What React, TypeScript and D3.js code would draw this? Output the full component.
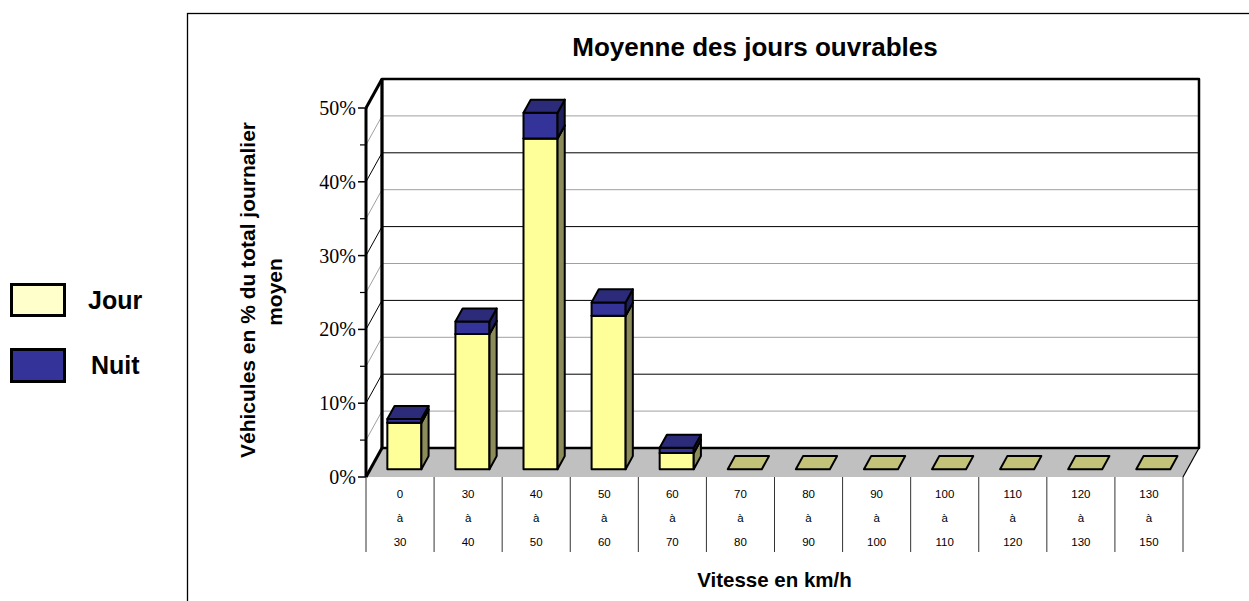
import * as d3 from 'd3'

const rangeFrom = ['0', '30', '40', '50', '60', '70', '80', '90', '100', '110', '120', '130']
const rangeTo = ['30', '40', '50', '60', '70', '80', '90', '100', '110', '120', '130', '150']
const jour = [6.3, 18.3, 44.8, 20.8, 2.2, 0, 0, 0, 0, 0, 0, 0]
const nuit = [0.5, 1.7, 3.5, 1.8, 0.7, 0, 0, 0, 0, 0, 0, 0]
const majorTicks = [0, 10, 20, 30, 40, 50]
const minorTicks = [5, 15, 25, 35, 45]

const SANS = 'Arial, "Liberation Sans", sans-serif'
const SERIF = '"Times New Roman", "Liberation Serif", serif'

// depth of the 3D box (back wall offset) and bar position inside it
const depth = { dx: 16, dy: -29 }
const f0 = 0.27
const f1 = 0.72

export default function App() {
  const x = d3.scaleBand<number>()
    .domain(rangeFrom.map((_, i) => i))
    .range([366, 1183])
    .paddingInner(0.5)
    .paddingOuter(0.25)
  const y = d3.scaleLinear().domain([0, 50]).range([477, 108])

  const left = x.range()[0]
  const right = x.range()[1]
  const step = x.step()
  const bw = x.bandwidth()
  const ox = depth.dx * f0
  const oy = depth.dy * f0
  const ddx = depth.dx * (f1 - f0)
  const ddy = depth.dy * (f1 - f0)

  const pts = (p: [number, number][]) => p.map(q => q.join(',')).join(' ')

  const box = (i: number, v0: number, v1: number, front: string, side: string, top: string, key: string) => {
    const X = (x(i) || 0) + ox
    const yt = y(v1) + oy
    const yb = y(v0) + oy
    return (
      <g key={key} stroke="#000" strokeWidth={2} strokeLinejoin="round">
        <rect x={X} y={yt} width={bw} height={yb - yt} fill={front} />
        <polygon points={pts([[X + bw, yt], [X + bw + ddx, yt + ddy], [X + bw + ddx, yb + ddy], [X + bw, yb]])} fill={side} />
        <polygon points={pts([[X, yt], [X + ddx, yt + ddy], [X + bw + ddx, yt + ddy], [X + bw, yt]])} fill={top} />
      </g>
    )
  }

  const flat = (i: number) => {
    const X = (x(i) || 0) + ox
    const yb = y(0) + oy
    return (
      <polygon key={'f' + i} points={pts([[X, yb], [X + ddx, yb + ddy], [X + bw + ddx, yb + ddy], [X + bw, yb]])}
        fill="#c2c278" stroke="#000" strokeWidth={2} strokeLinejoin="round" />
    )
  }

  const boundaries = d3.range(rangeFrom.length + 1).map(i => left + i * step)

  return (
    <svg width={1249} height={601} style={{ position: 'absolute', left: 0, top: 0, background: '#fff' }}>
      {/* outer frame */}
      <rect x={187.5} y={13.5} width={1200} height={700} fill="none" stroke="#000" strokeWidth={1.3} />

      <text x={755} y={56} textAnchor="middle" fontFamily={SANS} fontWeight="bold" fontSize={26}>
        Moyenne des jours ouvrables
      </text>

      {/* side wall + back wall */}
      <polygon points={pts([[left, y(0)], [left + depth.dx, y(0) + depth.dy], [left + depth.dx, y(50) + depth.dy], [left, y(50)]])} fill="#fff" />
      <rect x={left + depth.dx} y={y(50) + depth.dy} width={right - left} height={y(0) - y(50)} fill="#fff" />

      {/* floor */}
      <polygon points={pts([[left, y(0)], [right, y(0)], [right + depth.dx, y(0) + depth.dy], [left + depth.dx, y(0) + depth.dy]])} fill="#c0c0c0" />

      {/* gridlines */}
      {minorTicks.map(t => (
        <g key={'m' + t} stroke="#a0a0a0" strokeWidth={1}>
          <line x1={left} y1={y(t)} x2={left + depth.dx} y2={y(t) + depth.dy} />
          <line x1={left + depth.dx} y1={y(t) + depth.dy} x2={right + depth.dx} y2={y(t) + depth.dy} />
        </g>
      ))}
      {majorTicks.filter(t => t > 0 && t < 50).map(t => (
        <g key={'g' + t} stroke="#000" strokeWidth={1}>
          <line x1={left} y1={y(t)} x2={left + depth.dx} y2={y(t) + depth.dy} />
          <line x1={left + depth.dx} y1={y(t) + depth.dy} x2={right + depth.dx} y2={y(t) + depth.dy} />
        </g>
      ))}

      {/* wall outlines */}
      <g fill="none" stroke="#000" strokeLinejoin="round">
        <rect x={left + depth.dx} y={y(50) + depth.dy} width={right - left} height={y(0) - y(50)} strokeWidth={2.5} />
        <line x1={left + depth.dx} y1={y(50) + depth.dy} x2={left + depth.dx} y2={y(0) + depth.dy} strokeWidth={3} />
        <line x1={left} y1={y(50)} x2={left + depth.dx} y2={y(50) + depth.dy} strokeWidth={3} />
        <line x1={left} y1={y(0)} x2={left + depth.dx} y2={y(0) + depth.dy} strokeWidth={3} />
        <line x1={right} y1={y(0)} x2={right + depth.dx} y2={y(0) + depth.dy} strokeWidth={1.2} />
        <line x1={left} y1={y(0)} x2={left} y2={y(50)} strokeWidth={3} />
      </g>

      {/* y ticks */}
      {majorTicks.map(t => (
        <g key={'t' + t}>
          <line x1={left - 8} x2={left} y1={y(t)} y2={y(t)} stroke="#000" strokeWidth={1.5} />
          <text x={left - 10} y={y(t)} dy="0.35em" textAnchor="end" fontFamily={SERIF} fontSize={20}>{t}%</text>
        </g>
      ))}
      {minorTicks.map(t => (
        <line key={'mt' + t} x1={left - 6} x2={left} y1={y(t)} y2={y(t)} stroke="#000" strokeWidth={1.2} />
      ))}

      {/* bars */}
      {rangeFrom.map((_, i) =>
        jour[i] + nuit[i] === 0
          ? flat(i)
          : (
            <g key={'b' + i}>
              {box(i, 0, jour[i], '#ffff99', '#8c8c5a', '#c2c278', 'j' + i)}
              {box(i, jour[i], jour[i] + nuit[i], '#333399', '#1f1f5c', '#2b2b7a', 'n' + i)}
            </g>
          )
      )}

      {/* category table */}
      {boundaries.map((bx, i) => (
        <line key={'s' + i} x1={bx} x2={bx} y1={y(0)} y2={552} stroke="#333" strokeWidth={1} />
      ))}
      {rangeFrom.map((from, i) => {
        const cx = left + (i + 0.5) * step
        return (
          <g key={'c' + i} fontFamily={SANS} fontSize={11.5} textAnchor="middle" fill="#000">
            <text x={cx} y={494} dy="0.35em">{from}</text>
            <text x={cx} y={518} dy="0.35em">à</text>
            <text x={cx} y={542} dy="0.35em">{rangeTo[i]}</text>
          </g>
        )
      })}

      <text x={(left + right) / 2} y={587} textAnchor="middle" fontFamily={SANS} fontWeight="bold" fontSize={20.5}>
        Vitesse en km/h
      </text>

      <g fontFamily={SANS} fontWeight="bold" fontSize={21} textAnchor="middle">
        <text transform="translate(255,290) rotate(-90)">Véhicules en % du total journalier</text>
        <text transform="translate(282,292) rotate(-90)">moyen</text>
      </g>

      {/* legend */}
      <rect x={11.5} y={284.5} width={53} height={31} fill="#ffffcc" stroke="#000" strokeWidth={3} />
      <rect x={11.5} y={349.5} width={53} height={32} fill="#333399" stroke="#000" strokeWidth={3} />
      <g fontFamily={SANS} fontWeight="bold" fontSize={25}>
        <text x={88} y={309}>Jour</text>
        <text x={91} y={374}>Nuit</text>
      </g>
    </svg>
  )
}
